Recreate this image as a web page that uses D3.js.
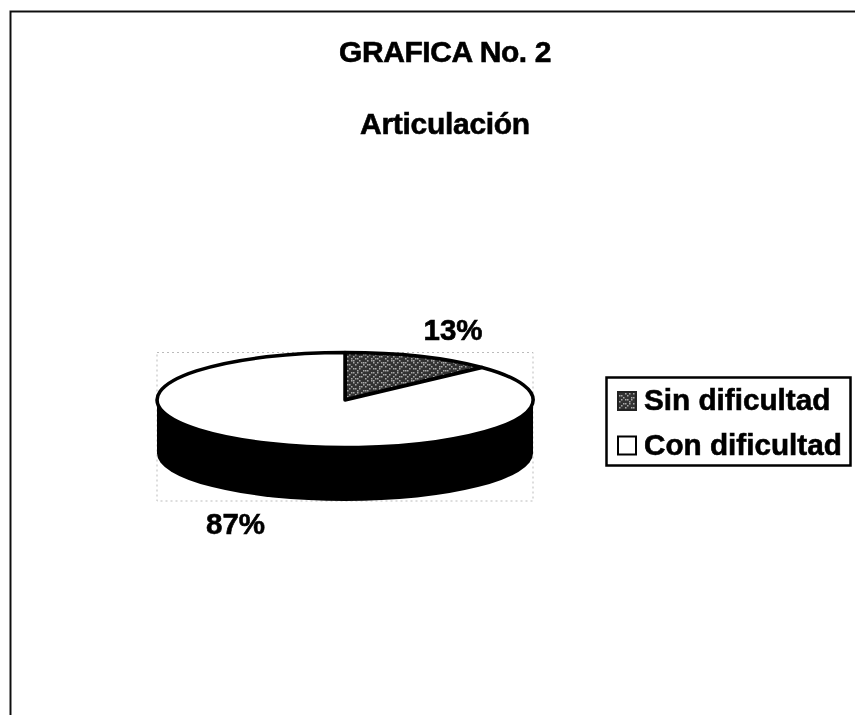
<!DOCTYPE html>
<html>
<head>
<meta charset="utf-8">
<script src="https://cdn.jsdelivr.net/npm/d3@7/dist/d3.min.js"></script>
<style>
    html, body { margin: 0; padding: 0; background: #fff; }
    text { font-family: "Liberation Sans", Arial, sans-serif; font-weight: bold; fill: #000; stroke: #000; stroke-width: 0.6px; }
</style>
</head>
<body>
<div id="chart"></div>
<script>
// values
var categories = ["Sin dificultad", "Con dificultad"];
var percents = [13, 87];
var titles = ["GRAFICA No. 2", "Articulación"];

// speckle for the dark slice, hand typed so it stays the same on each run
var speckle = [
    "0101100100",
    "1000101011",
    "0110010001",
    "1001000110",
    "0010110100",
    "1100001001",
    "0001101010",
    "1010010001",
    "0100100110",
    "1001011000"
];

var width = 855, height = 715;

var svg = d3.select("#chart")
    .append("svg")
    .attr("width", width)
    .attr("height", height);

var defs = svg.append("defs");

// slight softness, the reference is a scan
defs.append("filter")
    .attr("id", "scan")
    .attr("filterUnits", "userSpaceOnUse")
    .attr("x", 0).attr("y", 0)
    .attr("width", width).attr("height", height)
    .append("feGaussianBlur")
    .attr("stdDeviation", 0.45);

var page = svg.append("g").attr("filter", "url(#scan)");

// frame, only top and left are visible in the scan
page.append("path")
    .attr("d", "M10.5," + height + "V11.5H" + width)
    .attr("fill", "none")
    .attr("stroke", "#111")
    .attr("stroke-width", 2);

page.selectAll(".title")
    .data(titles)
    .enter().append("text")
    .attr("class", "title")
    .attr("x", 445)
    .attr("y", (d, i) => i == 0 ? 61.5 : 134)
    .attr("text-anchor", "middle")
    .attr("font-size", 30)
    .attr("letter-spacing", (d, i) => i == 0 ? -0.4 : -0.3)
    .text(d => d);

var pattern = defs.append("pattern")
    .attr("id", "speckle")
    .attr("patternUnits", "userSpaceOnUse")
    .attr("width", 20)
    .attr("height", 20);
pattern.append("rect")
    .attr("width", 20)
    .attr("height", 20)
    .attr("fill", "#333");
speckle.forEach(function(row, y) {
    row.split("").forEach(function(c, x) {
        if (c == "1") {
            pattern.append("rect")
                .attr("x", x * 2)
                .attr("y", y * 2)
                .attr("width", 1.5)
                .attr("height", 1.5)
                .attr("fill", "#a8a8a8");
        }
    });
});

// pie, squashed to an ellipse
var cx = 345, cy = 400, rx = 188, ry = 47.5, depth = 53.5;

var pie = d3.pie().sort(null);
var arc = d3.arc().innerRadius(0).outerRadius(1);
var slices = pie(percents);

// faint dotted plot area
page.append("rect")
    .attr("x", cx - rx)
    .attr("y", cy - ry)
    .attr("width", rx * 2)
    .attr("height", ry * 2 + depth)
    .attr("fill", "none")
    .attr("stroke", "#bbb")
    .attr("stroke-width", 1)
    .attr("stroke-dasharray", "2 3");

// side wall: shifted ellipse plus the band joining it to the top
var wall = page.append("g").attr("transform", "translate(" + cx + "," + cy + ")");
wall.append("rect")
    .attr("x", -rx)
    .attr("y", 0)
    .attr("width", rx * 2)
    .attr("height", depth)
    .attr("fill", "#000");
wall.append("path")
    .attr("transform", "translate(0," + depth + ") scale(" + rx + "," + ry + ")")
    .attr("d", arc({startAngle: 0, endAngle: 2 * Math.PI}))
    .attr("fill", "#000");

// the pattern would scale with the group, so this copy undoes the squash
defs.append("pattern")
    .attr("id", "speckle-slice")
    .attr("patternUnits", "userSpaceOnUse")
    .attr("width", 20 / rx)
    .attr("height", 20 / ry)
    .append("use")
    .attr("href", "#speckle-tile")
    .attr("transform", "scale(" + (1 / rx) + "," + (1 / ry) + ")");
var tile = defs.append("g").attr("id", "speckle-tile");
pattern.selectAll("rect").each(function() {
    tile.node().appendChild(this.cloneNode());
});

page.append("g")
    .attr("transform", "translate(" + cx + "," + cy + ") scale(" + rx + "," + ry + ")")
    .selectAll("path")
    .data(slices)
    .enter().append("path")
    .attr("d", arc)
    .attr("fill", (d, i) => i == 0 ? "url(#speckle-slice)" : "#fff")
    .attr("stroke", "#000")
    .attr("stroke-width", 3.5)
    .attr("stroke-linejoin", "round")
    .attr("vector-effect", "non-scaling-stroke");

// percent labels
var labelPos = [[453, 340], [235.5, 534]];
page.selectAll(".pct")
    .data(percents)
    .enter().append("text")
    .attr("class", "pct")
    .attr("x", (d, i) => labelPos[i][0])
    .attr("y", (d, i) => labelPos[i][1])
    .attr("text-anchor", "middle")
    .attr("font-size", 29.5)
    .text(d => d + "%");

// legend
var legend = page.append("g");
legend.append("rect")
    .attr("x", 606.5)
    .attr("y", 377.5)
    .attr("width", 244)
    .attr("height", 88)
    .attr("fill", "#fff")
    .attr("stroke", "#000")
    .attr("stroke-width", 2.5);

var legendRow = legend.selectAll(".legendRow")
    .data(categories)
    .enter().append("g")
    .attr("class", "legendRow")
    .attr("transform", (d, i) => "translate(617," + (391 + i * 44.5) + ")");

legendRow.append("rect")
    .attr("x", 1)
    .attr("y", 1)
    .attr("width", 18)
    .attr("height", 18)
    .attr("fill", (d, i) => i == 0 ? "url(#speckle)" : "#fff")
    .attr("stroke", (d, i) => i == 0 ? "#222" : "#000")
    .attr("stroke-width", 2);

legendRow.append("text")
    .attr("x", 27)
    .attr("y", 19)
    .attr("font-size", 29.7)
    .text(d => d);
</script>
</body>
</html>
